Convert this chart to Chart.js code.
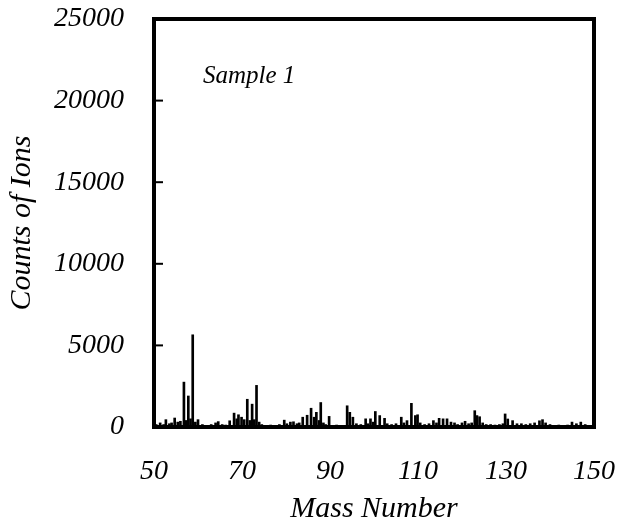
<!DOCTYPE html>
<html>
<head>
<meta charset="utf-8">
<script src="https://cdn.jsdelivr.net/npm/chart.js@4"></script>
<style>
  html, body { margin: 0; padding: 0; background: #fff; }
  canvas { display: block; }
</style>
</head>
<body>
<canvas id="spectrum" width="618" height="531"></canvas>
<script>
// mass positions of the peaks
const masses = [
  50.5, 51.4, 52.2, 52.7, 53.5, 54.0, 54.7, 55.4, 56.0, 56.8, 57.3, 57.8, 58.3, 58.8, 59.4,
  60.0, 61.0, 62.0, 63.0, 64.0, 64.6, 65.5, 66.3, 67.2, 68.2, 68.8, 69.2, 69.9, 70.5,
  71.2, 71.8, 72.3, 72.8, 73.3, 73.9, 74.5, 75.5, 76.5, 77.5, 78.5, 79.6, 80.2, 81.0,
  81.7, 82.5, 83.0, 83.8, 84.8, 85.7, 86.4, 86.9, 87.5, 87.9, 88.5, 89.0, 89.8, 90.5,
  91.5, 92.5, 93.9, 94.5, 95.2, 96.0, 97.0, 98.1, 98.6, 99.2, 99.8, 100.3, 101.3, 102.4,
  103.0, 104.0, 105.0, 106.2, 106.8, 107.5, 108.5, 109.4, 109.9, 110.5, 111.5, 112.5,
  113.5, 114.2, 114.8, 115.7, 116.6, 117.5, 118.3, 119.0, 120.0, 120.7, 121.5, 122.2,
  122.9, 123.4, 124.0, 124.7, 125.5, 126.5, 127.5, 128.5, 129.3, 129.8, 130.4, 131.5,
  132.5, 133.5, 134.5, 135.5, 136.5, 137.6, 138.3, 139.0, 140.0, 141.0, 142.0, 143.0,
  144.0, 145.0, 146.0, 147.0, 148.0, 149.0
];

// ion counts at each mass
const counts = [
  150, 250, 150, 450, 200, 250, 550, 300, 350, 2750, 400, 1900, 500, 5650, 300,
  450, 150, 100, 150, 250, 330, 150, 120, 380, 850, 500, 750, 600, 450,
  1700, 400, 1400, 450, 2550, 300, 150, 100, 120, 100, 150, 420, 200, 300,
  320, 200, 250, 600, 720, 1150, 600, 900, 400, 1500, 250, 150, 650, 100,
  120, 100, 1300, 900, 600, 200, 150, 500, 200, 500, 300, 950, 700, 530,
  200, 150, 200, 600, 250, 390, 1450, 700, 750, 250, 150, 200,
  390, 250, 530, 500, 500, 300, 250, 150, 250, 350, 200, 250,
  1000, 700, 630, 250, 150, 150, 120, 150, 200, 800, 490, 390,
  200, 200, 150, 200, 250, 380, 450, 250, 150, 100, 120, 100,
  120, 300, 200, 300, 150, 100
];

const xTicks = [50, 70, 90, 110, 130, 150];
const yTicks = [0, 5000, 10000, 15000, 20000, 25000];
const sampleLabel = 'Sample 1';

const serif = "'Liberation Serif', 'Times New Roman', serif";

// 边框、内向刻度和样品标签
const framePlugin = {
  id: 'frame',
  afterDraw(chart) {
    const { ctx, chartArea: a, scales } = chart;
    ctx.save();
    ctx.strokeStyle = '#000';
    ctx.lineWidth = 4;
    ctx.strokeRect(a.left, a.top, a.right - a.left, a.bottom - a.top);

    ctx.lineWidth = 2;
    yTicks.slice(1, -1).forEach(v => {
      const y = scales.y.getPixelForValue(v);
      ctx.beginPath();
      ctx.moveTo(a.left, y);
      ctx.lineTo(a.left + 9, y);
      ctx.stroke();
    });

    ctx.fillStyle = '#000';
    ctx.font = `italic 25px ${serif}`;
    ctx.textBaseline = 'middle';
    ctx.fillText(sampleLabel, a.left + 49, a.top + 57);
    ctx.restore();
  }
};

new Chart(document.getElementById('spectrum').getContext('2d'), {
  type: 'bar',
  data: {
    datasets: [{
      data: masses.map((m, i) => ({ x: m, y: counts[i] })),
      backgroundColor: '#000',
      borderWidth: 0,
      barThickness: 2
    }]
  },
  options: {
    responsive: false,
    animation: false,
    layout: { padding: { top: 19, right: 24, left: 0, bottom: 0 } },
    plugins: {
      legend: { display: false },
      tooltip: { enabled: false }
    },
    scales: {
      x: {
        type: 'linear',
        min: 50,
        max: 150,
        offset: false,
        afterBuildTicks(scale) {
          scale.ticks = xTicks.map(v => ({ value: v }));
        },
        afterFit(scale) {
          scale.height = 104;
          scale.paddingLeft = 0;
          scale.paddingRight = 0;
        },
        grid: { display: false, drawTicks: false, offset: false },
        border: { display: false },
        ticks: {
          padding: 28,
          color: '#000',
          font: { family: serif, size: 28, style: 'italic' },
          callback: v => String(v)
        },
        title: {
          display: true,
          text: 'Mass Number',
          color: '#000',
          font: { family: serif, size: 30, style: 'italic' },
          padding: { top: 0, bottom: 4 }
        }
      },
      y: {
        min: 0,
        max: 25000,
        afterBuildTicks(scale) {
          scale.ticks = yTicks.map(v => ({ value: v }));
        },
        afterFit(scale) {
          scale.width = 154;
          scale.paddingTop = 0;
          scale.paddingBottom = 0;
        },
        grid: { display: false, drawTicks: false },
        border: { display: false },
        ticks: {
          padding: 30,
          color: '#000',
          font: { family: serif, size: 28, style: 'italic' },
          callback: v => String(v)
        },
        title: {
          display: true,
          text: 'Counts of Ions',
          color: '#000',
          font: { family: serif, size: 30, style: 'italic' },
          padding: { top: 4, bottom: 0 }
        }
      }
    }
  },
  plugins: [framePlugin]
});
</script>
</body>
</html>
